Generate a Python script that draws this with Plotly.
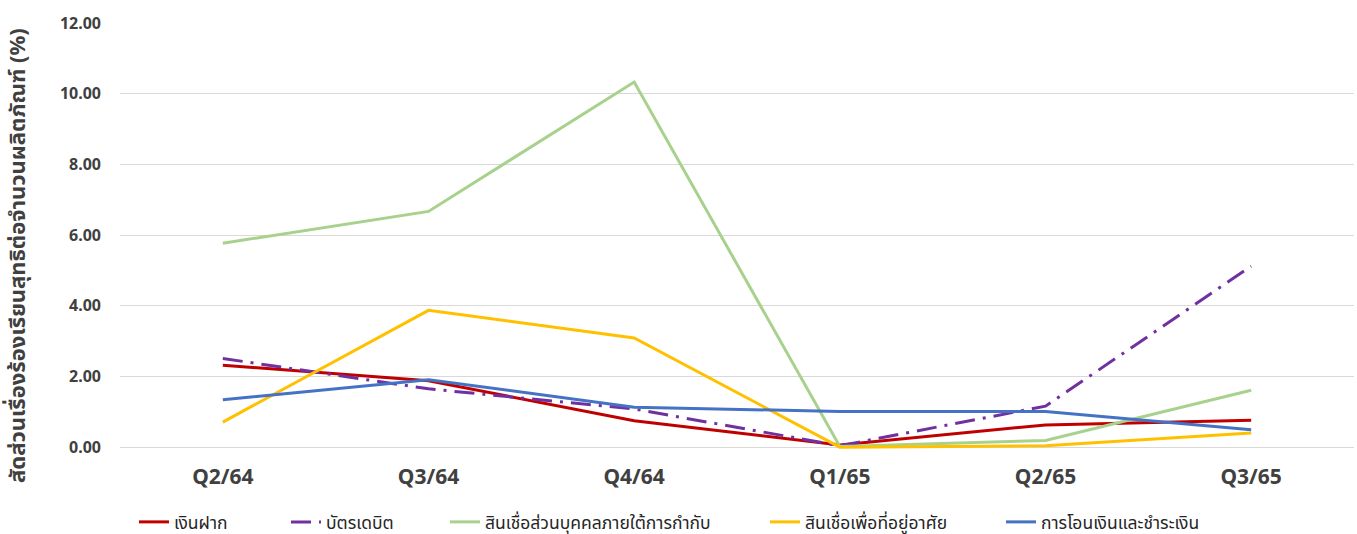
import plotly.graph_objects as go

quarters = ["Q2/64", "Q3/64", "Q4/64", "Q1/65", "Q2/65", "Q3/65"]

deposit = [2.32, 1.88, 0.75, 0.06, 0.63, 0.76]
debit_card = [2.51, 1.65, 1.08, 0.04, 1.16, 5.12]
personal_loan = [5.77, 6.67, 10.33, 0.02, 0.19, 1.61]
housing_loan = [0.71, 3.87, 3.09, 0.0, 0.04, 0.40]
transfer = [1.34, 1.91, 1.13, 1.01, 1.01, 0.49]

names = ["เงินฝาก", "บัตรเดบิต", "สินเชื่อส่วนบุคคลภายใต้การกำกับ",
         "สินเชื่อเพื่อที่อยู่อาศัย", "การโอนเงินและชำระเงิน"]
series = [deposit, debit_card, personal_loan, housing_loan, transfer]
colors = ["#C00000", "#7030A0", "#A9D18E", "#FFC000", "#4472C4"]
dashes = ["solid", "20px,8px,3px,8px", "solid", "solid", "solid"]
legend_px = [134, 286, 445, 765, 1001]

W, H = 1357, 534
ml, mr, mt, mb = 120, 3, 23, 84
pw = W - ml - mr
ph = H - mt - mb

fig = go.Figure()
legend_ids = ["legend", "legend2", "legend3", "legend4", "legend5"]
for i, (nm, ys, c, d) in enumerate(zip(names, series, colors, dashes)):
    fig.add_trace(go.Scatter(
        x=quarters, y=ys, name=nm, mode="lines",
        line=dict(color=c, width=3, dash=d),
        legend=legend_ids[i],
    ))

font_fam = "Noto Sans, Noto Sans Thai, DejaVu Sans, sans-serif"
layout_legends = {}
for i, lid in enumerate(legend_ids):
    layout_legends[lid] = dict(
        x=(legend_px[i] - ml) / pw, xanchor="left",
        y=(ph - (522 - mt)) / ph, yanchor="middle",
        orientation="h", bgcolor="rgba(0,0,0,0)",
        font=dict(family=font_fam, size=17.5, color="#262626"),
        itemwidth=30,
    )

fig.update_layout(
    width=W, height=H,
    margin=dict(l=ml, r=mr, t=mt, b=mb, autoexpand=False),
    plot_bgcolor="white", paper_bgcolor="white",
    font=dict(family=font_fam, color="#404040"),
    showlegend=True,
    xaxis=dict(
        type="category", range=[-0.5, len(quarters) - 0.5],
        showgrid=False, zeroline=False, showline=False,
        ticks="", ticklabelstandoff=12,
        tickfont=dict(family=font_fam, size=21, color="#404040", weight="bold"),
    ),
    yaxis=dict(
        range=[-0.08, 12.0], tickvals=[0, 2, 4, 6, 8, 10, 12],
        tickformat=".2f", showgrid=True, gridcolor="#D9D9D9", gridwidth=1,
        zeroline=False, showline=False, ticks="", ticklabelstandoff=18,
        tickfont=dict(family=font_fam, size=16, color="#404040", weight="bold"),
    ),
    annotations=[dict(
        text="สัดส่วนเรื่องร้องเรียนสุทธิต่อจำนวนผลิตภัณฑ์ (%)",
        xref="paper", yref="paper",
        x=(16 - ml) / pw, y=(ph - (256 - mt)) / ph,
        xanchor="center", yanchor="middle", textangle=-90, showarrow=False,
        font=dict(family=font_fam, size=22, color="#404040", weight="bold"),
    )],
    **layout_legends,
)

fig.write_html(
    "out.html",
    config={"displayModeBar": False},
    post_script="document.body.style.margin='0';document.body.style.overflow='hidden';",
)
